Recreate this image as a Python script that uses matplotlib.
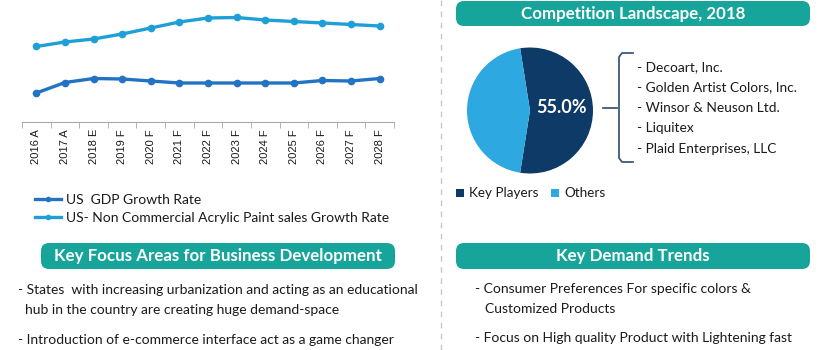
import matplotlib.pyplot as plt
from matplotlib.patches import FancyBboxPatch
from matplotlib.lines import Line2D

plt.rcParams['font.family'] = ['Lato', 'DejaVu Sans']

# line chart data (growth rate)
years = ['2016 A', '2017 A', '2018 E', '2019 F', '2020 F', '2021 F', '2022 F',
         '2023 F', '2024 F', '2025 F', '2026 F', '2027 F', '2028 F']
gdp_growth = [2.9, 3.95, 4.35, 4.3, 4.1, 3.9, 3.9, 3.9, 3.9, 3.9, 4.15, 4.1, 4.35]
paint_growth = [7.55, 8.0, 8.3, 8.8, 9.4, 10.0, 10.4, 10.45, 10.2, 10.05, 9.9, 9.75, 9.6]

# pie data
share_labels = ['Key Players', 'Others']
share_values = [55.0, 45.0]
players = ['- Decoart, Inc.', '- Golden Artist Colors, Inc.', '- Winsor & Neuson Ltd.',
           '- Liquitex', '- Plaid Enterprises, LLC']

focus_lines = ['- States  with increasing urbanization and acting as an educational',
               'hub in the country are creating huge demand-space',
               '- Introduction of e-commerce interface act as a game changer']
trend_lines = ['- Consumer Preferences For specific colors &',
               'Customized Products',
               '- Focus on High quality Product with Lightening fast']

teal = '#17a59b'
navy = '#0d3a66'
sky = '#2ea8e0'
c_gdp = '#2273c3'
c_paint = '#1f9fd8'
txt = '#1a1a1a'

W, H = 820, 350
fig = plt.figure(figsize=(8.2, 3.5), dpi=100)

# background overlay in pixel units
bg = fig.add_axes([0, 0, 1, 1])
bg.set_xlim(0, W)
bg.set_ylim(H, 0)
bg.axis('off')

# ---- line chart
ax = fig.add_axes([22 / W, (H - 122) / H, (394 - 22) / W, 122 / H])
x = range(len(years))
ax.plot(x, gdp_growth, color=c_gdp, lw=2.4, marker='o', ms=4.5)
ax.plot(x, paint_growth, color=c_paint, lw=2.4, marker='o', ms=4.5)
ax.set_xlim(-0.5, len(years) - 0.5)
ax.set_ylim(0, 12.2)
for s in ['top', 'right', 'left']:
    ax.spines[s].set_visible(False)
ax.spines['bottom'].set_color('#a8a8a8')
ax.set_yticks([])
ax.set_xticks(list(x))
ax.set_xticklabels(years, rotation=90, fontsize=8, color=txt, family=['Liberation Sans'])
ax.set_xticks([i - 0.5 for i in range(len(years) + 1)], minor=True)
ax.tick_params(axis='x', which='major', length=0, pad=5)
ax.tick_params(axis='x', which='minor', length=4, color='#a8a8a8')

handles = [Line2D([], [], color=c_gdp, lw=2.4, marker='o', ms=3),
           Line2D([], [], color=c_paint, lw=2.4, marker='o', ms=3)]
fig.legend(handles, ['US  GDP Growth Rate', 'US- Non Commercial Acrylic Paint sales Growth Rate'],
           loc='upper left', bbox_to_anchor=(22 / W, 1 - 181 / H), frameon=False,
           fontsize=10, handlelength=1.9, handletextpad=0.4, labelspacing=0.45,
           labelcolor=txt)

# ---- separator
bg.plot([441, 441], [0, H], color='#c8c8c8', lw=1, ls=(0, (4, 4)))

# ---- header boxes
def header(x0, x1, y0, y1, label):
    bg.add_patch(FancyBboxPatch((x0 + 8, y0), x1 - x0 - 16, y1 - y0,
                                boxstyle='round,pad=0,rounding_size=8',
                                fc=teal, ec='none', mutation_aspect=1))
    bg.text((x0 + x1) / 2, (y0 + y1) / 2 + 0.5, label, color='white', fontsize=12.2,
            fontweight='bold', ha='center', va='center')

header(448, 818, 1, 26, 'Competition Landscape, 2018')
header(33, 403, 243, 269, 'Key Focus Areas for Business Development')
header(448, 818, 243, 269, 'Key Demand Trends')

# ---- pie
pax = fig.add_axes([467 / W, (H - 173.5) / H, 126 / W, 126 / H])
pax.pie(share_values, colors=[navy, sky], startangle=99, counterclock=False,
        radius=1)
pax.set_xlim(-1, 1)
pax.set_ylim(-1, 1)
pax.text(0.5, 0.05, f'{share_values[0]:.1f}%', color='white', fontsize=13,
         fontweight='bold', ha='center', va='center')

# bracket
bc = '#3d5a75'
bg.plot([603, 617], [107.5, 107.5], color=bc, lw=1.3)
bg.plot([633, 622, 619, 619, 622, 633], [53, 53, 57, 158, 162, 162], color=bc, lw=1.3)
for i, p in enumerate(players):
    bg.text(637, 67 + i * 20.5, p, fontsize=9.9, color=txt, va='center')

# pie legend
for lab, col, xs in zip(share_labels, [navy, sky], [456, 551]):
    bg.add_patch(plt.Rectangle((xs, 189), 8, 8, fc=col, ec='none'))
    bg.text(xs + 13, 193, lab, fontsize=9.7, color=txt, va='center')

# ---- bottom text
for t, yy, xx in zip(focus_lines, [290, 310, 340], [18, 25, 18]):
    bg.text(xx, yy, t, fontsize=10, color=txt, va='center')
for t, yy, xx in zip(trend_lines, [289, 309, 338], [475, 485, 475]):
    bg.text(xx, yy, t, fontsize=10, color=txt, va='center')

fig.savefig('out.png', dpi=100)
